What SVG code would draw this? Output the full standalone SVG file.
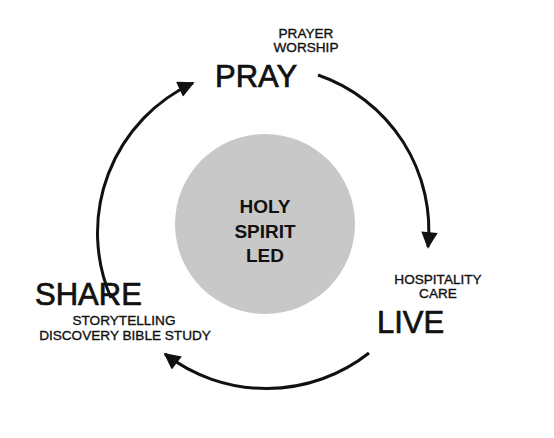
<svg xmlns="http://www.w3.org/2000/svg" width="554" height="438" viewBox="0 0 554 438">
<style>
.big{font-family:"Liberation Sans",Arial,sans-serif;font-size:31px;fill:#111;stroke:#111;stroke-width:0.7}
.small{font-family:"Liberation Sans",Arial,sans-serif;font-size:13.6px;fill:#111;stroke:#111;stroke-width:0.35}
.center{font-family:"Liberation Sans",Arial,sans-serif;font-size:19px;font-weight:bold;fill:#111}
.arc{fill:none;stroke:#111;stroke-width:3}
</style>
<defs>
<marker id="ah" viewBox="0 0 10 10" refX="9" refY="5" markerWidth="6" markerHeight="5.5" orient="auto" markerUnits="strokeWidth">
<path d="M0,0 L10,5 L0,10 Z" fill="#111"/>
</marker>
</defs>
<rect width="554" height="438" fill="#fff"/>
<g id="connectors">
<path class="arc" d="M318,75 A164,164 0 0 1 428,247" marker-end="url(#ah)"/>
<path class="arc" d="M369,353 A166,166 0 0 1 165,354" marker-end="url(#ah)"/>
<path class="arc" d="M111,298 A165,165 0 0 1 193,83" marker-end="url(#ah)"/>
</g>
<g id="holy-spirit">
<circle cx="265" cy="224" r="90" fill="#c8c8c9"/>
<text class="center" x="265" y="213" text-anchor="middle">HOLY</text>
<text class="center" x="265" y="238" text-anchor="middle">SPIRIT</text>
<text class="center" x="265" y="262" text-anchor="middle">LED</text>
</g>
<g id="pray">
<text class="small" x="306" y="38" text-anchor="middle">PRAYER</text>
<text class="small" x="306" y="52" text-anchor="middle">WORSHIP</text>
<text class="big" x="215" y="87">PRAY</text>
</g>
<g id="live">
<text class="small" x="438" y="284" text-anchor="middle">HOSPITALITY</text>
<text class="small" x="438" y="298" text-anchor="middle">CARE</text>
<text class="big" x="377" y="333">LIVE</text>
</g>
<g id="share">
<text class="big" x="35" y="305">SHARE</text>
<text class="small" x="124" y="325" text-anchor="middle">STORYTELLING</text>
<text class="small" x="125" y="340" text-anchor="middle">DISCOVERY BIBLE STUDY</text>
</g>
</svg>
